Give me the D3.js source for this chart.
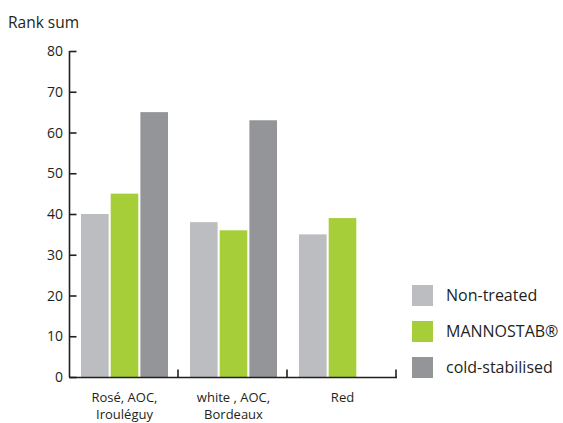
<!DOCTYPE html>
<html>
<head>
<meta charset="utf-8">
<title>Rank sum</title>
<style>
  body { margin: 0; background: #fff; }
  text { font-family: "Open Sans", "Noto Sans", sans-serif; fill: #231f20; }
</style>
</head>
<body>
<div id="chart"></div>
<script src="https://d3js.org/d3.v7.min.js"></script>
<script>
// data
var categories = [["Rosé, AOC,", "Irouléguy"], ["white , AOC,", "Bordeaux"], ["Red"]];
var seriesNames = ["Non-treated", "MANNOSTAB®", "cold-stabilised"];
var nonTreated = [40, 38, 35];
var mannostab = [45, 36, 39];
var coldStab = [65, 63, null];
var yTicks = [0, 10, 20, 30, 40, 50, 60, 70, 80];
var colors = ["#bcbdc0", "#a6ce39", "#939598"];

var w = 563, h = 423;
var svg = d3.select("#chart").append("svg").attr("width", w).attr("height", h);

var x0 = d3.scaleBand().domain([0, 1, 2]).range([69, 396]).paddingInner(0).paddingOuter(0);
var x1 = d3.scaleBand().domain([0, 1, 2]).range([12, 99]).paddingInner(0.07);
var y = d3.scaleLinear().domain([0, 80]).range([377, 51]);

var all = [nonTreated, mannostab, coldStab];

// bars
categories.forEach(function(c, i) {
  all.forEach(function(s, j) {
    if (s[i] == null) return;
    svg.append("rect")
      .attr("x", x0(i) + x1(j))
      .attr("y", y(s[i]))
      .attr("width", x1.bandwidth())
      .attr("height", y(0) - y(s[i]))
      .attr("fill", colors[j]);
  });
});

// y axis
var yAxis = d3.axisRight(y).tickValues(yTicks).tickSize(7).tickFormat("");
var gy = svg.append("g").attr("transform", "translate(69.5,0)").call(yAxis);
gy.select(".domain").attr("stroke", "#231f20").attr("stroke-width", 1.6).attr("d", "M0," + y(80) + "V" + y(0));
gy.selectAll(".tick line").attr("stroke", "#231f20").attr("stroke-width", 1.6);
svg.selectAll(".ylab").data(yTicks).enter().append("text")
  .attr("x", 63).attr("y", function(d) { return y(d) + 5; })
  .attr("text-anchor", "end").style("font-size", "14px")
  .text(function(d) { return d; });

// x axis
var gx = svg.append("g").attr("transform", "translate(0,377.5)");
gx.append("line").attr("x1", 69).attr("x2", 397).attr("stroke", "#231f20").attr("stroke-width", 1.6);
categories.forEach(function(c, i) {
  var xe = x0(i) + x0.bandwidth();
  gx.append("line").attr("x1", xe).attr("x2", xe).attr("y1", 0).attr("y2", -8)
    .attr("stroke", "#231f20").attr("stroke-width", 1.6);
  var t = svg.append("text").attr("text-anchor", "middle").style("font-size", "13px");
  c.forEach(function(line, k) {
    t.append("tspan").attr("x", x0(i) + x0.bandwidth() / 2 + 1).attr("y", 402 + k * 17).text(line);
  });
});

// y title
svg.append("text").attr("x", 8).attr("y", 28).style("font-size", "15.5px").text("Rank sum");

// legend
seriesNames.forEach(function(n, j) {
  var ly = 285 + j * 36;
  svg.append("rect").attr("x", 412).attr("y", ly).attr("width", 21).attr("height", 21).attr("fill", colors[j]);
  svg.append("text").attr("x", 446).attr("y", ly + 16).style("font-size", "16px").text(n);
});
</script>
</body>
</html>
